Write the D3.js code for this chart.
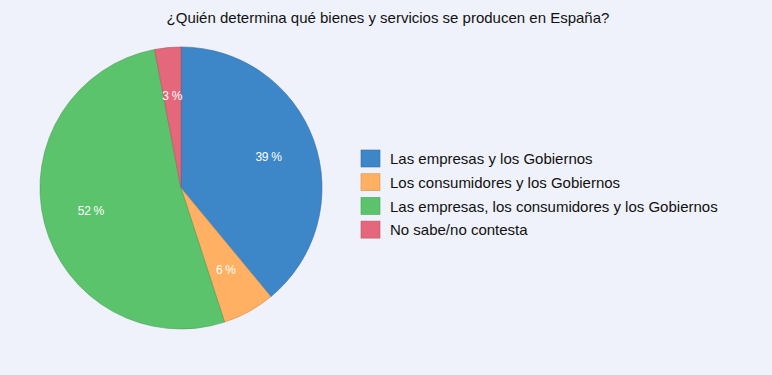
<!DOCTYPE html>
<html>
<head>
<meta charset="utf-8">
<script src="https://cdn.jsdelivr.net/npm/d3@7"></script>
<style>
  body { margin: 0; background: #eff2fa; }
  svg { display: block; font-family: "Liberation Sans", Arial, sans-serif; }
</style>
</head>
<body>
<svg id="chart"></svg>
<script>
// Datos
const categories = [
    "Las empresas y los Gobiernos",
    "Los consumidores y los Gobiernos",
    "Las empresas, los consumidores y los Gobiernos",
    "No sabe/no contesta"
];
const values = [39, 6, 52, 3];
const colors = ["#3d86c8", "#ffb062", "#5bc36c", "#e5677b"];

const width = 772;
const height = 375;
const cx = 181, cy = 188, radius = 141;

const svg = d3.select("#chart")
    .attr("width", width)
    .attr("height", height);

svg.append("rect")
    .attr("width", width)
    .attr("height", height)
    .attr("fill", "#eff2fa");

// Título
svg.append("text")
    .attr("x", 388)
    .attr("y", 23)
    .attr("text-anchor", "middle")
    .attr("font-size", 15)
    .attr("fill", "#111")
    .text("¿Quién determina qué bienes y servicios se producen en España?");

const data = categories.map((c, i) => ({ name: c, value: values[i], color: colors[i] }));

const pie = d3.pie().value(d => d.value).sort(null);
const arc = d3.arc().innerRadius(0).outerRadius(radius);
const labelArc = d3.arc().innerRadius(radius * 0.66).outerRadius(radius * 0.66);

const g = svg.append("g").attr("transform", `translate(${cx},${cy})`);

const arcs = pie(data);

g.selectAll("path")
    .data(arcs)
    .enter()
    .append("path")
    .attr("d", arc)
    .attr("fill", d => d.data.color)
    .attr("stroke", d => d3.color(d.data.color).darker(0.6))
    .attr("stroke-width", 0.6);

g.selectAll(".lbl")
    .data(arcs)
    .enter()
    .append("text")
    .attr("class", "lbl")
    .attr("transform", d => `translate(${labelArc.centroid(d)})`)
    .attr("text-anchor", "middle")
    .attr("dy", "0.35em")
    .attr("font-size", 12)
    .attr("letter-spacing", -0.3)
    .attr("fill", "#fff")
    .text(d => `${d.data.value} %`);

// Leyenda
const legend = svg.append("g")
    .attr("transform", "translate(361,150)");

const rows = legend.selectAll("g")
    .data(data)
    .enter()
    .append("g")
    .attr("transform", (d, i) => `translate(0,${i * 23.7})`);

rows.append("rect")
    .attr("width", 19)
    .attr("height", 17)
    .attr("fill", d => d.color)
    .attr("stroke", d => d3.color(d.color).darker(0.5))
    .attr("stroke-width", 0.6);

rows.append("text")
    .attr("x", 29)
    .attr("y", 9)
    .attr("dy", "0.35em")
    .attr("font-size", 15)
    .attr("fill", "#111")
    .text(d => d.name);
</script>
</body>
</html>
